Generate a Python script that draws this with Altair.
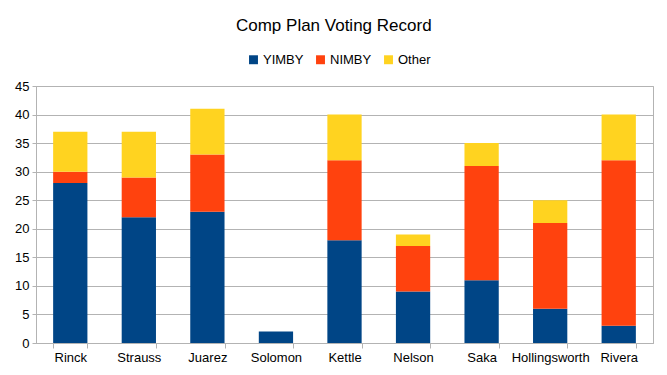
import altair as alt
import pandas as pd

members = ["Rinck", "Strauss", "Juarez", "Solomon", "Kettle", "Nelson", "Saka", "Hollingsworth", "Rivera"]
yimby = [28, 22, 23, 2, 18, 9, 11, 6, 3]
nimby = [2, 7, 10, 0, 14, 8, 20, 15, 29]
other = [7, 8, 8, 0, 8, 2, 4, 4, 8]
series = ["YIMBY", "NIMBY", "Other"]
colors = ["#004586", "#ff420e", "#ffd320"]

rows = []
for i, m in enumerate(members):
    for k, (s, vals) in enumerate(zip(series, [yimby, nimby, other])):
        rows.append({"member": m, "series": s, "value": vals[i], "order": k})
df = pd.DataFrame(rows)

FONT = "Liberation Sans"

chart = alt.Chart(df).mark_bar().encode(
    x=alt.X("member:N", sort=members, title=None,
            scale=alt.Scale(paddingInner=0.5, paddingOuter=0.25),
            axis=alt.Axis(labelAngle=0, tickBand="extent", grid=False,
                          domainColor="#b3b3b3", tickColor="#b3b3b3", tickSize=5,
                          labelFont=FONT, labelFontSize=13, labelColor="#000000",
                          labelPadding=3)),
    y=alt.Y("value:Q", title=None,
            scale=alt.Scale(domain=[0, 45], nice=False),
            axis=alt.Axis(values=list(range(0, 50, 5)), grid=True, gridColor="#b3b3b3",
                          domainColor="#b3b3b3", tickColor="#b3b3b3", tickSize=4,
                          labelFont=FONT, labelFontSize=13, labelColor="#000000",
                          labelPadding=3)),
    color=alt.Color("series:N", scale=alt.Scale(domain=series, range=colors),
                    legend=alt.Legend(title=None, orient="none", direction="horizontal",
                                      legendX=211, legendY=-33, symbolType="square",
                                      symbolSize=80, symbolStrokeWidth=0,
                                      labelFont=FONT, labelFontSize=13, labelColor="#000000",
                                      columnPadding=10, labelOffset=3)),
    order=alt.Order("order:Q", sort="ascending"),
).properties(
    width=617,
    height=257,
    title=alt.TitleParams("Comp Plan Voting Record", font=FONT, fontSize=17,
                          fontWeight="normal", color="#000000", anchor="middle",
                          frame="bounds", offset=18),
    autosize=alt.AutoSizeParams(type="none"),
    padding={"left": 28, "top": 78, "right": 6, "bottom": 24},
).configure_view(stroke="#b3b3b3")

chart.save("out.html", embed_options={"renderer": "svg", "actions": False})
